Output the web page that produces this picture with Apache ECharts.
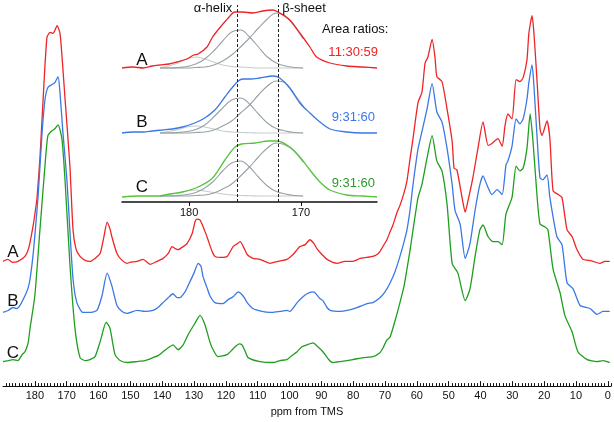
<!DOCTYPE html>
<html>
<head>
<meta charset="utf-8">
<script src="https://cdn.jsdelivr.net/npm/echarts@6/dist/echarts.min.js"></script>
<style>html,body{margin:0;padding:0;background:#fff}#c{width:614px;height:422px}</style>
</head>
<body>
<div id="c"></div>
<script>
// ---------- DATA ----------
// main spectra: [ppm, intensity above own baseline]
const traceA = [[190.0,1],[188.5,3],[187.0,0],[185.3,1],[183.1,6],[181.8,16],[180.6,36],[179.9,51],[179.3,66],[178.4,106],[177.4,166],[176.2,229],[175.2,234],[174.3,233],[173.7,236],[173.0,241],[172.1,233],[171.5,211],[170.5,166],[169.0,99],[168.0,33],[167.1,14],[165.8,6],[164.2,2],[162.7,1],[161.1,4],[159.5,9],[158.3,26],[157.3,41],[156.4,34],[155.8,26],[154.2,9],[152.6,2],[151.0,-1],[150.1,0],[147.9,1],[146.0,3],[143.8,-2],[141.6,1],[139.7,4],[138.1,9],[136.9,16],[135.9,14],[135.0,13],[133.4,16],[132.2,19],[130.6,29],[129.7,41],[129.1,44],[128.1,43],[127.5,39],[126.5,31],[125.6,23],[124.3,11],[123.4,6],[121.5,5],[119.6,6],[117.7,16],[116.4,19],[115.5,21],[114.2,14],[113.3,8],[111.5,4],[109.3,3],[106.1,-1],[103.6,1],[100.8,3],[98.9,8],[96.7,16],[95.1,18],[93.6,23],[92.3,19],[91.4,14],[89.8,8],[88.2,3],[85.1,-1],[82.6,1],[80.1,1],[77.8,4],[75.7,5],[73.8,6],[72.5,8],[71.6,11],[70.3,18],[69.4,23],[68.4,31],[67.5,38],[66.2,51],[65.3,58],[64.0,71],[63.1,83],[62.1,106],[61.2,126],[59.6,163],[58.4,173],[57.4,203],[56.5,209],[55.2,227],[54.3,209],[53.7,189],[52.1,184],[50.5,156],[48.9,123],[48.3,96],[47.4,94],[45.8,66],[44.8,51],[43.9,63],[42.4,86],[40.8,116],[39.2,143],[37.6,119],[36.4,121],[34.5,126],[33.2,118],[32.3,139],[31.4,151],[30.1,146],[28.8,186],[27.6,184],[26.6,188],[25.4,206],[24.8,233],[23.8,251],[23.2,233],[22.2,183],[21.3,136],[20.7,129],[19.1,144],[18.2,126],[17.2,73],[15.6,69],[14.4,66],[12.8,33],[11.2,26],[9.7,13],[7.8,3],[6.2,2],[4.7,1],[2.5,-1],[0.9,1],[-0.6,1]];
const traceB = [[190.0,0],[188.4,2],[186.9,5],[185.6,4],[184.7,7],[183.1,17],[182.1,25],[181.5,34],[180.6,57],[179.9,82],[179.0,117],[177.7,184],[176.8,217],[175.9,229],[174.6,232],[173.7,234],[172.7,240],[172.1,224],[171.2,184],[169.9,134],[169.0,84],[168.0,34],[166.8,10],[164.9,0],[162.7,0],[160.5,2],[158.9,17],[157.3,40],[155.8,27],[154.2,7],[152.6,1],[151.0,-1],[147.9,2],[145.4,1],[142.9,2],[141.3,5],[139.7,10],[138.1,15],[136.6,19],[135.3,15],[134.4,15],[132.8,21],[131.9,27],[130.0,40],[128.7,50],[127.8,47],[127.2,37],[125.9,25],[125.0,17],[123.4,10],[120.9,9],[119.3,13],[117.7,16],[116.1,21],[115.2,19],[114.2,15],[113.3,10],[111.5,4],[108.6,1],[106.1,0],[103.0,1],[100.8,2],[99.9,1],[97.6,10],[96.1,15],[94.5,19],[92.9,21],[92.0,20],[90.4,14],[89.5,12],[88.2,5],[87.2,2],[84.1,1],[81.9,2],[78.8,5],[75.6,9],[73.8,10],[71.6,15],[70.0,21],[68.4,30],[66.8,42],[65.3,57],[64.0,72],[63.1,84],[62.1,105],[61.2,130],[59.6,167],[58.4,184],[56.8,207],[55.2,233],[53.7,204],[52.1,194],[50.5,167],[48.9,130],[48.0,104],[46.4,90],[44.8,55],[43.3,70],[41.7,104],[40.2,130],[39.2,139],[38.0,130],[36.4,120],[34.8,125],[33.2,120],[32.0,150],[31.4,154],[30.1,169],[28.8,197],[27.6,192],[26.6,197],[25.4,217],[24.8,234],[23.8,252],[23.2,230],[22.2,177],[21.3,137],[20.4,135],[19.1,140],[18.2,117],[16.0,77],[14.4,69],[12.8,30],[10.9,24],[8.7,7],[5.6,4],[3.4,-2],[1.5,1],[-0.6,1]];
const traceC = [[190.0,-1],[188.4,0],[186.9,1],[185.3,0],[184.0,6],[183.1,9],[182.1,18],[181.5,33],[180.0,66],[178.4,133],[176.8,199],[175.9,229],[174.6,234],[173.7,236],[172.7,240],[171.5,226],[170.5,183],[169.0,99],[167.4,33],[165.8,3],[164.2,0],[162.7,1],[161.1,4],[159.5,19],[157.6,39],[156.4,33],[154.8,6],[153.2,0],[151.0,-2],[147.9,-1],[145.4,0],[142.9,3],[141.3,5],[139.7,9],[138.1,13],[136.6,16],[135.0,11],[133.4,16],[131.9,26],[129.7,38],[128.1,46],[126.5,36],[125.2,21],[124.3,13],[122.5,4],[119.6,6],[118.0,11],[117.1,14],[115.8,17],[114.9,16],[114.0,10],[113.0,3],[109.3,-1],[105.2,-2],[103.0,0],[100.8,1],[99.3,5],[97.6,9],[96.1,14],[94.5,16],[92.6,18],[91.1,14],[89.5,9],[87.9,2],[86.6,-2],[84.1,-1],[80.1,1],[76.9,3],[73.8,4],[71.6,8],[70.6,13],[69.4,21],[68.4,24],[66.8,41],[65.3,59],[64.0,76],[63.1,93],[62.1,113],[61.2,133],[59.6,166],[58.4,179],[56.8,206],[55.2,229],[53.7,203],[52.1,193],[50.5,159],[48.9,99],[47.1,89],[44.8,61],[43.3,73],[41.7,106],[40.2,133],[39.2,138],[37.6,126],[36.1,121],[34.5,121],[33.2,118],[32.0,149],[30.1,166],[28.8,198],[27.6,193],[26.6,196],[25.4,216],[24.4,251],[23.5,223],[22.2,166],[21.3,139],[19.7,136],[18.8,133],[17.2,93],[15.0,69],[13.5,46],[11.2,29],[9.4,9],[6.5,1],[3.4,-1],[1.5,0],[0.3,-1],[-0.6,-2]];

// inset (carbonyl region) envelopes
const insetA = [[186.0,0],[185.0,1],[184.1,0],[183.3,2],[182.6,3],[181.8,4],[181.1,6],[180.2,9],[179.6,13],[179.2,14],[178.4,21],[177.9,31],[177.2,41],[176.5,50],[175.9,56],[175.2,56],[174.3,55],[173.4,57],[172.5,58],[171.9,55],[171.0,48],[170.1,35],[169.2,21],[168.6,11],[167.4,5],[165.9,2],[164.5,1],[163.2,0]];
const insetB = [[186.0,0],[185.0,1],[184.1,1],[183.3,2],[182.4,3],[181.5,4],[180.6,6],[179.5,10],[178.6,15],[177.7,23],[176.8,36],[176.1,46],[175.6,52],[175.2,54],[174.5,54],[173.7,55],[172.5,57],[171.9,55],[171.0,45],[170.1,30],[169.2,20],[168.3,11],[167.4,4],[165.9,1],[164.5,0],[163.2,0]];
const insetC = [[186.0,-1],[184.5,0],[182.8,0],[181.7,2],[180.6,4],[179.2,9],[177.9,18],[176.8,36],[175.9,49],[175.3,52],[174.1,53],[172.9,55],[172.1,55],[171.0,49],[170.1,39],[169.2,26],[168.3,14],[167.4,6],[165.9,1],[164.5,0],[163.2,-1]];

// fitted components
const fitPpm = [182.6,181.8,181.0,180.2,179.4,178.6,177.8,177.0,176.2,175.4,174.6,173.8,173.0,172.2,171.4,170.6,169.8];
const fitA1 = [0.5,2,5,9,11,9,6,3,1.5,1,0.5,0,0,0,0,0,0];
const fitA2 = [0,0,0.5,1.5,4,9,17,27,36,38,31,21,11,5,2,0.5,0];
const fitA3 = [0,0,0,0,0.5,1,3,7,13,21,30,40,49,55,52,42,29];
const fitB1 = [0.3,1.5,3.5,6,7,6,4,2,1,0.5,0.3,0,0,0,0,0,0];
const fitB2 = [0,0,0.5,1.5,3.5,8,16,25,33,35,29,19,10,4.5,2,0.5,0];
const fitB3 = [0,0,0,0,0.5,1,3,7,12,20,28,38,47,52,50,39,27];
const fitC1 = [0.3,1.5,3,5,6,5,3.5,2,1,0.5,0.3,0,0,0,0,0,0];
const fitC2 = [0,0,0.5,1.5,3.5,8,15,25,33,35,29,19,10,4.5,2,0.5,0];
const fitC3 = [0,0,0,0,0.5,1,3,7,12,20,29,39,48,53,51,45,34];

const helixPpm = 175.7, sheetPpm = 172.0;
const mainTicks = [0,10,20,30,40,50,60,70,80,90,100,110,120,130,140,150,160,170,180];
const insetTicks = [170,180];
const ratioA = '11:30:59', ratioB = '9:31:60', ratioC = '9:31:60';

// ---------- STYLE / LAYOUT ----------
const FONT = 'Liberation Sans, Arial, sans-serif';
const RED = '#ee2426', BLUE = '#3b78e4', GREEN = '#1f9e1f', GREEN_IN = '#55c43a', GREEN_TXT = '#2a9a2a';
const GRAY = '#98a1a5', LGRAY = '#c6cdcf';
const offMain = {A:126, B:75, C:26};
const offIn = {A:134, B:69, C:6};

const minorTicks = [];
for (let v = -1; v <= 190; v++) if (v % 10 !== 0) minorTicks.push(v);

function shift(arr, off){ return arr.map(p => [p[0], p[1] + off]); }
function fit(vals, off){ return fitPpm.map((p,i) => [p, vals[i] + off]); }

const series = [];
function mainLine(data, color){
  series.push({type:'line', xAxisIndex:0, yAxisIndex:0, data, showSymbol:false, smooth:0.2,
    lineStyle:{color, width:1.3}, z:3, silent:true});
}
mainLine(shift(traceA, offMain.A), RED);
mainLine(shift(traceB, offMain.B), BLUE);
mainLine(shift(traceC, offMain.C), GREEN);

function fitLine(vals, off, color){
  series.push({type:'line', xAxisIndex:2, yAxisIndex:1, data:fit(vals, off), showSymbol:false, smooth:0.4,
    lineStyle:{color, width:1.1}, z:2, silent:true});
}
[[fitA1,fitA2,fitA3,offIn.A],[fitB1,fitB2,fitB3,offIn.B],[fitC1,fitC2,fitC3,offIn.C]].forEach(g=>{
  fitLine(g[0], g[3], LGRAY); fitLine(g[1], g[3], GRAY); fitLine(g[2], g[3], GRAY);
});
function inLine(data, color){
  series.push({type:'line', xAxisIndex:2, yAxisIndex:1, data, showSymbol:false, smooth:0.3,
    lineStyle:{color, width:1.3}, z:3, silent:true});
}
inLine(shift(insetA, offIn.A), RED);
inLine(shift(insetB, offIn.B), BLUE);
inLine(shift(insetC, offIn.C), GREEN_IN);
// dashed markers
series.push({type:'line', xAxisIndex:2, yAxisIndex:1, data:[], z:5,
  markLine:{silent:true, symbol:['none','none'], label:{show:false},
    lineStyle:{color:'#222', width:1, type:[3,2]},
    data:[{xAxis:helixPpm},{xAxis:sheetPpm}]}});

const txt = (t, x, y, size, color, align) => ({type:'text', x, y, z:10,
  style:{text:t, fill:color||'#111', font:(size||13)+'px '+FONT, textAlign:align||'center', textVerticalAlign:'middle'}});

const option = {
  animation:false,
  backgroundColor:'#fff',
  grid:[
    {left:3, right:3, top:2, bottom:29},
    {left:122, width:255, top:5, height:197}
  ],
  xAxis:[
    {gridIndex:0, type:'value', min:-1, max:190, inverse:true, position:'bottom',
      axisLine:{onZero:false, lineStyle:{color:'#111', width:1}},
      axisTick:{inside:true, length:5, customValues:mainTicks, lineStyle:{color:'#111'}},
      axisLabel:{customValues:mainTicks, fontSize:11, color:'#111', margin:4, fontFamily:FONT},
      splitLine:{show:false},
      name:'ppm from TMS', nameLocation:'middle', nameGap:15,
      nameTextStyle:{fontSize:11, color:'#111', fontFamily:FONT}},
    {gridIndex:0, type:'value', min:-1, max:190, inverse:true, position:'bottom',
      axisLine:{show:false, onZero:false},
      axisTick:{inside:true, length:3, customValues:minorTicks, lineStyle:{color:'#111'}},
      axisLabel:{show:false}, splitLine:{show:false}},
    {gridIndex:1, type:'value', min:163.2, max:186, inverse:true, position:'bottom',
      axisLine:{onZero:false, lineStyle:{color:'#111', width:1.5}},
      axisTick:{inside:false, length:4, customValues:insetTicks, lineStyle:{color:'#111'}},
      axisLabel:{customValues:insetTicks, fontSize:11, color:'#111', margin:5, fontFamily:FONT},
      splitLine:{show:false}}
  ],
  yAxis:[
    {gridIndex:0, type:'value', min:0, max:391, show:false, splitLine:{show:false}},
    {gridIndex:1, type:'value', min:0, max:197, show:false, splitLine:{show:false}}
  ],
  series,
  graphic:[
    txt('A', 13, 252, 17), txt('B', 13, 301, 17), txt('C', 13, 353, 17),
    txt('A', 142, 60, 17), txt('B', 142, 122, 17), txt('C', 142, 187, 17),
    txt('\u03b1-helix', 213, 8, 13), txt('\u03b2-sheet', 304, 8, 13),
    txt('Area ratios:', 322, 29, 13, '#111', 'left'),
    txt(ratioA, 378, 52, 13, RED, 'right'),
    txt(ratioB, 375, 117, 13, BLUE, 'right'),
    txt(ratioC, 375, 183, 13, GREEN_TXT, 'right')
  ]
};
const chart = echarts.init(document.getElementById('c'), null, {renderer:'canvas'});
chart.setOption(option);
</script>
</body>
</html>
